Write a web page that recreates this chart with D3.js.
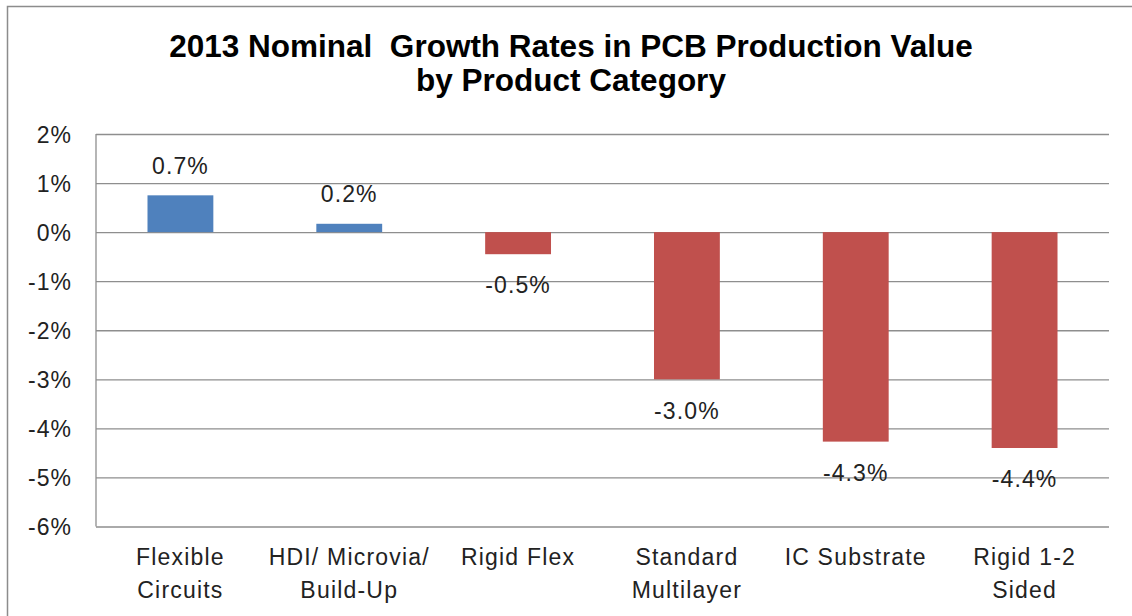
<!DOCTYPE html>
<html>
<head>
<meta charset="utf-8">
<script src="https://cdn.jsdelivr.net/npm/d3@7/dist/d3.min.js"></script>
<style>
  html, body { margin: 0; padding: 0; background: #fff; }
  svg { display: block; }
  text { font-family: "Liberation Sans", Arial, sans-serif; }
</style>
</head>
<body>
<svg id="chart" width="1132" height="616"></svg>
<script>
// ---- data ----
const categories = [
  ["Flexible", "Circuits"],
  ["HDI/ Microvia/", "Build-Up"],
  ["Rigid Flex"],
  ["Standard", "Multilayer"],
  ["IC Substrate"],
  ["Rigid 1-2", "Sided"]
];
const values = [0.75, 0.17, -0.45, -3.0, -4.27, -4.4];
const valueLabels = ["0.7%", "0.2%", "-0.5%", "-3.0%", "-4.3%", "-4.4%"];
const yTicks = [2, 1, 0, -1, -2, -3, -4, -5, -6];
const titleLines = ["2013 Nominal  Growth Rates in PCB Production Value", "by Product Category"];

// ---- layout ----
const svg = d3.select("#chart");
const W = 1132, H = 616;
const plot = { left: 96, right: 1109, top: 134, bottom: 526.5 };

// outer border
svg.append("rect")
  .attr("x", 7.5).attr("y", 6.5)
  .attr("width", W + 10).attr("height", H + 10)
  .attr("fill", "#fff").attr("stroke", "#8c8c8c").attr("stroke-width", 1.5);

// title
svg.append("text")
  .attr("x", 571).attr("y", 57)
  .attr("text-anchor", "middle")
  .style("font-size", "31.5px").style("font-weight", "bold")
  .style("white-space", "pre").attr("xml:space", "preserve")
  .attr("fill", "#000")
  .selectAll("tspan").data(titleLines).join("tspan")
  .attr("x", 571).attr("dy", (d, i) => i === 0 ? 0 : 34)
  .text(d => d);

const x = d3.scaleBand()
  .domain(d3.range(categories.length))
  .range([plot.left, plot.right])
  .paddingInner(0.61).paddingOuter(0.305);

const y = d3.scaleLinear().domain([-6, 2]).range([plot.bottom, plot.top]);

// gridlines via axis
const yAxis = d3.axisLeft(y)
  .tickValues(yTicks)
  .tickSize(-(plot.right - plot.left))
  .tickFormat(d => d + "%")
  .tickPadding(24);

const gy = svg.append("g")
  .attr("transform", `translate(${plot.left},0)`)
  .call(yAxis);
gy.select(".domain").remove();
gy.selectAll(".tick line").attr("stroke", "#8e8e8e").attr("stroke-width", 1.3);
gy.selectAll(".tick text")
  .attr("fill", "#222")
  .style("font-size", "23px")
  .style("letter-spacing", "1px")
  .attr("dy", "0.36em");

// left axis line
svg.append("line")
  .attr("x1", plot.left).attr("x2", plot.left)
  .attr("y1", plot.top).attr("y2", plot.bottom)
  .attr("stroke", "#8e8e8e").attr("stroke-width", 1.3);

// bars
svg.append("g").selectAll("rect").data(values).join("rect")
  .attr("x", (d, i) => x(i))
  .attr("width", x.bandwidth())
  .attr("y", d => y(Math.max(0, d)))
  .attr("height", d => Math.abs(y(d) - y(0)))
  .attr("fill", d => d >= 0 ? "#4f81bd" : "#c0504d");

// value labels
svg.append("g").selectAll("text").data(values).join("text")
  .attr("x", (d, i) => x(i) + x.bandwidth() / 2)
  .attr("y", d => d >= 0 ? y(d) - 30 : y(d) + 31)
  .attr("dy", "0.36em")
  .attr("text-anchor", "middle")
  .attr("fill", "#222")
  .style("font-size", "23px")
  .style("letter-spacing", "1.1px")
  .text((d, i) => valueLabels[i]);

// category labels
const cat = svg.append("g").selectAll("text").data(categories).join("text")
  .attr("text-anchor", "middle")
  .attr("fill", "#222")
  .style("font-size", "23px")
  .style("letter-spacing", "1.2px");
cat.selectAll("tspan").data(d => d).join("tspan")
  .attr("x", function() { const i = categories.indexOf(d3.select(this.parentNode).datum()); return x(i) + x.bandwidth() / 2; })
  .attr("y", (d, j) => 565 + j * 33)
  .text(d => d);
</script>
</body>
</html>
